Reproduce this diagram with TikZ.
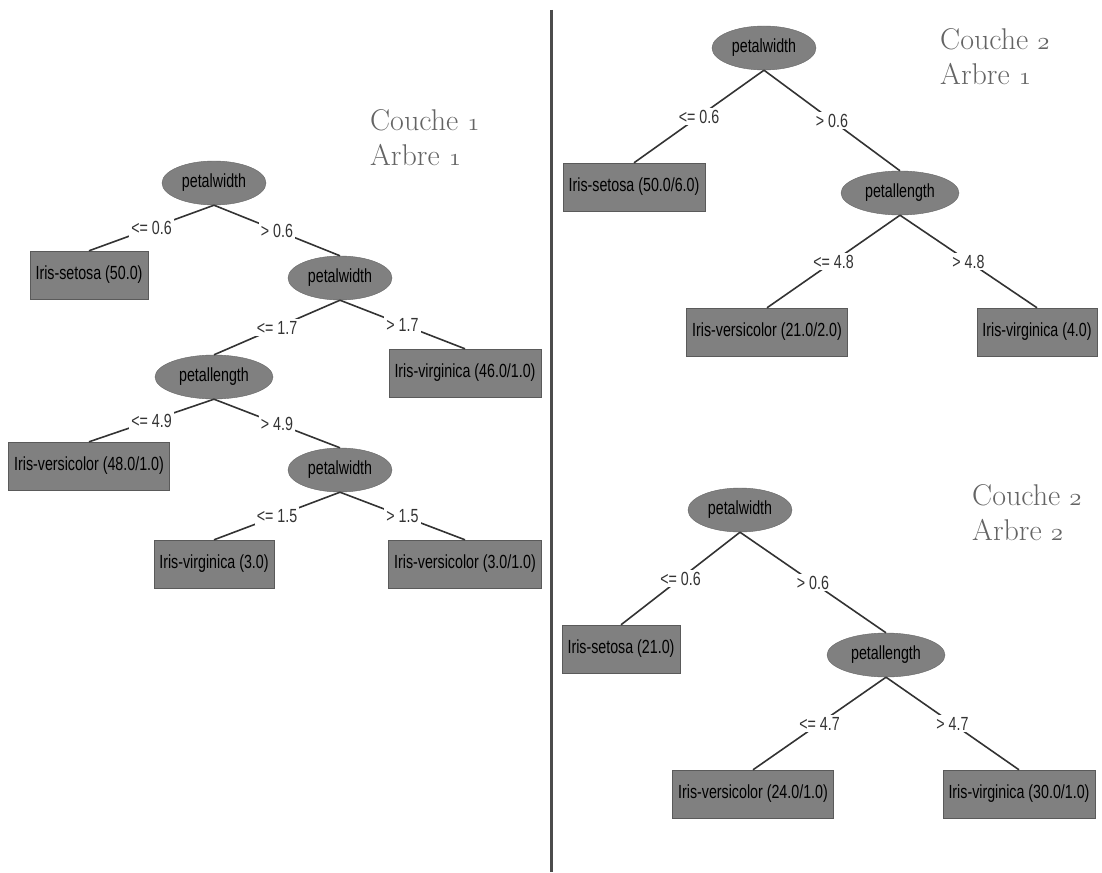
\documentclass[tikz,border=0pt]{standalone}
\usepackage{fontspec}
\usepackage{xcolor}
\usepackage{tikz}
\usetikzlibrary{shapes.geometric}

\newfontfamily\wekafont[FakeStretch=0.75]{Liberation Sans}
\newcommand{\osnum}[1]{{\usefont{OML}{lmm}{m}{it}#1}}
\definecolor{nodegray}{RGB}{128,128,128}
\definecolor{titlegray}{RGB}{100,100,100}

\begin{document}
\begin{tikzpicture}[
  x=1pt, y=-1pt,
  split/.style={ellipse, draw=nodegray!80!black, fill=nodegray, inner sep=1pt,
                minimum width=104pt, minimum height=44pt,
                font=\wekafont\fontsize{19}{21}\selectfont},
  leaf/.style={rectangle, draw=nodegray!70!black, fill=nodegray, inner xsep=5.5pt,
               minimum height=48pt, font=\wekafont\fontsize{19}{21}\selectfont},
  edge/.style={line width=1.6pt, black!80},
  lbl/.style={fill=white, inner sep=2pt, font=\wekafont\fontsize{19}{21}\selectfont},
  title/.style={align=left, anchor=west, text=titlegray, inner sep=0pt,
                font=\fontsize{30}{35}\selectfont},
  divider/.style={line width=3pt, black!70}
]
  \useasboundingbox (0,0) rectangle (1102,872);

  % left: couche 1, arbre 1
  \node[split] (n1) at (214,183) {petalwidth};
  \node[leaf] (l1) at (89,275) {Iris-setosa (50.0)};
  \node[split] (n2) at (340,278) {petalwidth};
  \node[split, minimum width=118pt] (n3) at (214,377) {petallength};
  \node[leaf] (l2) at (465,373) {Iris-virginica (46.0/1.0)};
  \node[leaf] (l3) at (89,466) {Iris-versicolor (48.0/1.0)};
  \node[split] (n4) at (340,470) {petalwidth};
  \node[leaf] (l4) at (214,564) {Iris-virginica (3.0)};
  \node[leaf] (l5) at (465,564) {Iris-versicolor (3.0/1.0)};
  \node[title] (t1) at (370,138) {Couche \osnum{1}\\Arbre \osnum{1}};

  \draw[edge] (n1.south) -- node[lbl] {<= 0.6} (l1.north);
  \draw[edge] (n1.south) -- node[lbl] {> 0.6} (n2.north);
  \draw[edge] (n2.south) -- node[lbl] {<= 1.7} (n3.north);
  \draw[edge] (n2.south) -- node[lbl] {> 1.7} (l2.north);
  \draw[edge] (n3.south) -- node[lbl] {<= 4.9} (l3.north);
  \draw[edge] (n3.south) -- node[lbl] {> 4.9} (n4.north);
  \draw[edge] (n4.south) -- node[lbl] {<= 1.5} (l4.north);
  \draw[edge] (n4.south) -- node[lbl] {> 1.5} (l5.north);

  % separator
  \coordinate (divtop) at (551,10);
  \coordinate (divbot) at (551,872);
  \draw[divider] (divtop) -- (divbot);

  % right top: couche 2, arbre 1
  \node[split] (r1) at (764,48) {petalwidth};
  \node[leaf] (rl1) at (634,187) {Iris-setosa (50.0/6.0)};
  \node[split, minimum width=118pt] (r2) at (900,193) {petallength};
  \node[leaf] (rl2) at (767,332) {Iris-versicolor (21.0/2.0)};
  \node[leaf] (rl3) at (1037,332) {Iris-virginica (4.0)};
  \node[title] (t2) at (940,57) {Couche \osnum{2}\\Arbre \osnum{1}};

  \draw[edge] (r1.south) -- node[lbl] {<= 0.6} (rl1.north);
  \draw[edge] (r1.south) -- node[lbl] {> 0.6} (r2.north);
  \draw[edge] (r2.south) -- node[lbl] {<= 4.8} (rl2.north);
  \draw[edge] (r2.south) -- node[lbl] {> 4.8} (rl3.north);

  % right bottom: couche 2, arbre 2
  \node[split] (s1) at (740,510) {petalwidth};
  \node[leaf] (sl1) at (621,649) {Iris-setosa (21.0)};
  \node[split, minimum width=118pt] (s2) at (886,655) {petallength};
  \node[leaf] (sl2) at (753,794) {Iris-versicolor (24.0/1.0)};
  \node[leaf] (sl3) at (1019,794) {Iris-virginica (30.0/1.0)};
  \node[title] (t3) at (972,513) {Couche \osnum{2}\\Arbre \osnum{2}};

  \draw[edge] (s1.south) -- node[lbl] {<= 0.6} (sl1.north);
  \draw[edge] (s1.south) -- node[lbl] {> 0.6} (s2.north);
  \draw[edge] (s2.south) -- node[lbl] {<= 4.7} (sl2.north);
  \draw[edge] (s2.south) -- node[lbl] {> 4.7} (sl3.north);
\end{tikzpicture}
\end{document}
